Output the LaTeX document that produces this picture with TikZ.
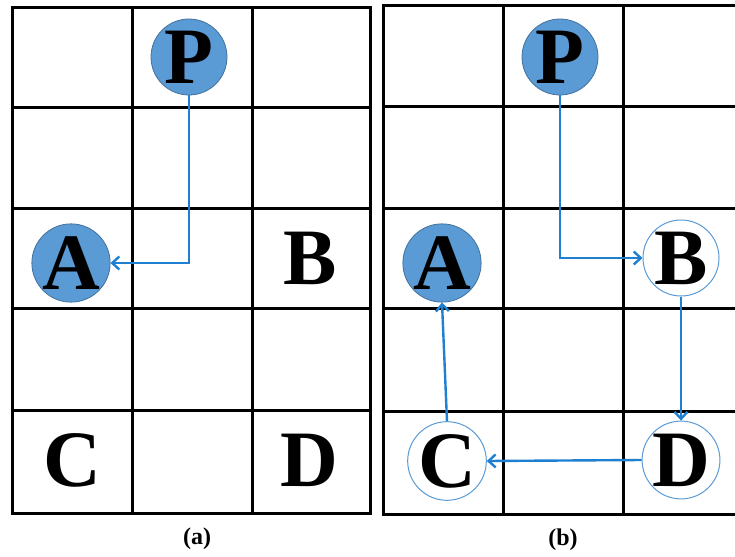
\documentclass[tikz,border=0pt]{standalone}
\usepackage{fontspec}
\setmainfont{Liberation Serif}
\usetikzlibrary{arrows.meta}
\definecolor{fillblue}{HTML}{5B9BD5}
\definecolor{edgeblue}{HTML}{41719C}
\definecolor{arrowblue}{HTML}{1F7FD0}
\begin{document}
\begin{tikzpicture}[x=1pt,y=-1pt,
  letter/.style={font=\fontsize{80}{80}\selectfont\bfseries, inner sep=0pt},
  filled/.style={letter, circle, minimum size=76pt, fill=fillblue, draw=edgeblue, line width=0.8pt},
  hollow/.style={letter, circle, minimum size=76pt, fill=white, draw=fillblue, line width=1pt},
  gridline/.style={line width=3pt, black},
  conn/.style={arrowblue, line width=2.4pt, -{Straight Barb[length=7pt,width=13pt]}},
  caption/.style={font=\fontsize{24}{24}\selectfont\bfseries, inner sep=0pt}]
\useasboundingbox (0,0) rectangle (735,556);
\clip (0,0) rectangle (735,556);
% left grid
\draw[gridline] (12,8) rectangle (370,513);
\foreach \gx in {132,252} \draw[gridline] (\gx,8) -- (\gx,513);
\foreach \gy in {108,208,308,410} \draw[gridline] (12,\gy) -- (370,\gy);
% right grid
\draw[gridline] (383,6) rectangle (743,514);
\foreach \gx in {503,623} \draw[gridline] (\gx,6) -- (\gx,514);
\foreach \gy in {107,208,308,411} \draw[gridline] (383,\gy) -- (743,\gy);
% left nodes
\node[filled] (lP) at (189,57) {P};
\node[filled] (lA) at (71,263) {A};
\node[letter] (lB) at (310,258) {B};
\node[letter] (lC) at (72,460) {C};
\node[letter] (lD) at (309,460) {D};
% right nodes
\node[filled] (rP) at (560,57) {P};
\node[filled] (rA) at (442,263) {A};
\node[hollow] (rB) at (681,258) {B};
\node[hollow] (rC) at (447,461) {C};
\node[hollow] (rD) at (681,460) {D};
% connectors
\draw[conn] (lP.south) |- (lA.east);
\draw[conn] (rP.south) |- (rB.west);
\draw[conn] (rB.south) -- (rD.north);
\draw[conn] (rD.west) -- (rC.east);
\draw[conn] (rC.north) -- (rA.south);
% captions
\node[caption] (capa) at (197,539) {(a)};
\node[caption] (capb) at (563,540) {(b)};
\end{tikzpicture}
\end{document}
